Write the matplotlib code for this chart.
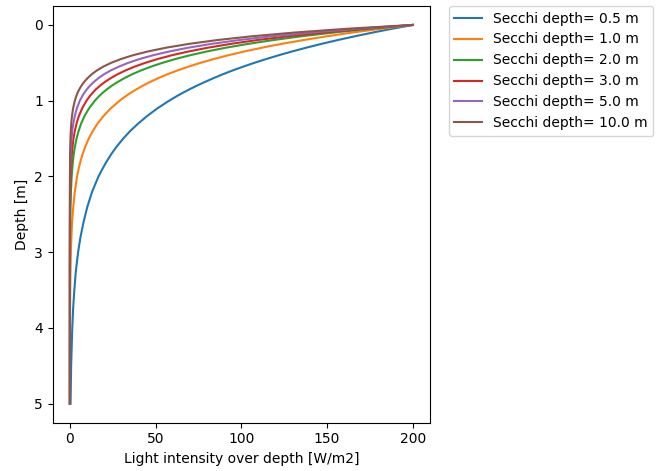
import matplotlib
matplotlib.use("Agg")
import matplotlib.pyplot as plt
import numpy as np

# depth samples [m] and light intensity [W/m2] for each Secchi depth
depth = [0, 0.05, 0.1, 0.15, 0.2, 0.25, 0.3, 0.35, 0.4, 0.45, 0.5, 0.55, 0.6, 0.65, 0.7,
         0.75, 0.8, 0.85, 0.9, 0.95, 1.0,
         1.1, 1.2, 1.3, 1.4, 1.5, 1.6, 1.7, 1.8, 1.9, 2.0,
         2.2, 2.4, 2.6, 2.8, 3.0,
         3.25, 3.5, 3.75, 4.0,
         4.5, 5.0]

secchi = [0.5, 1.0, 2.0, 3.0, 5.0, 10.0]

light_05 = [200, 188.0, 176.7, 166.1, 156.1, 146.7, 137.9, 129.6, 121.8, 114.5, 107.6, 101.1, 95.0,
            89.3, 84.0, 79.0, 74.2, 69.7, 65.5, 61.6, 57.9,
            51.1, 45.2, 39.9, 35.2, 31.1, 27.5, 24.3, 21.5, 19.0, 16.7,
            13.0, 10.2, 8.0, 6.2, 4.8,
            3.5, 2.6, 1.9, 1.4,
            0.75, 0.41]
light_1 = [200, 181.6, 164.9, 149.7, 136.0, 123.4, 112.1, 101.8, 92.4, 83.9, 76.2, 69.2, 62.8,
           57.0, 51.8, 47.0, 42.7, 38.8, 35.2, 32.0, 29.0,
           23.9, 19.7, 16.2, 13.4, 11.0, 9.1, 7.5, 6.2, 5.1, 4.2,
           2.9, 2.0, 1.3, 0.9, 0.61,
           0.38, 0.23, 0.14, 0.09,
           0.03, 0.01]
light_2 = [200, 175.4, 153.9, 135.0, 118.4, 103.9, 91.1, 79.9, 70.1, 61.5, 54.0, 47.4, 41.5,
           36.4, 32.0, 28.1, 24.6, 21.6, 18.9, 16.6, 14.6,
           11.2, 8.6, 6.6, 5.1, 3.9, 3.0, 2.3, 1.8, 1.4, 1.06,
           0.63, 0.37, 0.22, 0.13, 0.08,
           0.04, 0.02, 0.01, 0.0,
           0.0, 0.0]
light_3 = [200, 171.9, 147.7, 127.0, 109.1, 93.8, 80.6, 69.3, 59.5, 51.1, 44.0, 37.8, 32.5,
           27.9, 24.0, 20.6, 17.7, 15.2, 13.1, 11.3, 9.7,
           7.2, 5.3, 3.9, 2.9, 2.1, 1.6, 1.2, 0.86, 0.64, 0.47,
           0.26, 0.14, 0.08, 0.04, 0.02,
           0.01, 0.0, 0.0, 0.0,
           0.0, 0.0]
light_5 = [200, 167.6, 140.4, 117.6, 98.5, 82.5, 69.2, 58.0, 48.5, 40.6, 34.1, 28.6, 23.9,
           20.0, 16.8, 14.1, 11.8, 9.9, 8.3, 7.0, 5.8,
           4.1, 2.9, 2.0, 1.4, 0.98, 0.69, 0.48, 0.34, 0.24, 0.17,
           0.08, 0.04, 0.02, 0.01, 0.0,
           0.0, 0.0, 0.0, 0.0,
           0.0, 0.0]
light_10 = [200, 161.9, 131.0, 106.0, 85.8, 69.5, 56.2, 45.5, 36.8, 29.8, 24.1, 19.5, 15.8,
            12.8, 10.4, 8.4, 6.8, 5.5, 4.4, 3.6, 2.9,
            1.9, 1.25, 0.82, 0.54, 0.35, 0.23, 0.15, 0.10, 0.07, 0.04,
            0.02, 0.01, 0.0, 0.0, 0.0,
            0.0, 0.0, 0.0, 0.0,
            0.0, 0.0]

profiles = [light_05, light_1, light_2, light_3, light_5, light_10]

fig = plt.figure(figsize=(6.58, 4.71), dpi=100)
ax = fig.add_axes([52.7 / 658, 48.3 / 471, 377.3 / 658, 416.7 / 471])

for s, light in zip(secchi, profiles):
    ax.plot(light, depth, label='Secchi depth= ' + str(s) + ' m')

ax.invert_yaxis()
ax.set_xticks([0, 50, 100, 150, 200])
ax.set_xlabel('Light intensity over depth [W/m2]')
ax.set_ylabel('Depth [m]')
ax.legend(bbox_to_anchor=(1.05, 1), loc='upper left', borderaxespad=0.)

fig.savefig('out.png', dpi=100)
